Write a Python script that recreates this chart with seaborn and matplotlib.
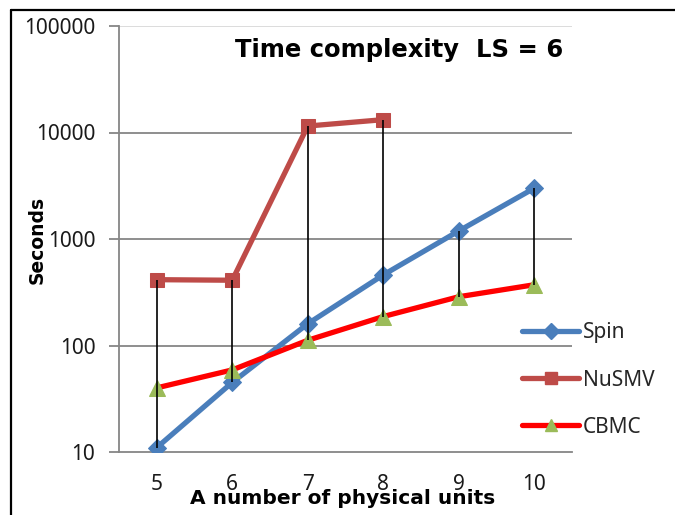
import numpy as np
import pandas as pd
import matplotlib
matplotlib.use("Agg")
import matplotlib.pyplot as plt
from matplotlib.lines import Line2D
import seaborn as sns

units = [5, 6, 7, 8, 9, 10]
spin = [11, 45, 160, 460, 1190, 3000]
nusmv = [415, 410, 11500, 13200, np.nan, np.nan]
cbmc = [40, 59, 112, 187, 287, 372]
y_ticks = [10, 100, 1000, 10000, 100000]

sns.set_theme(style="white")
plt.rcParams['font.family'] = ['Noto Sans', 'DejaVu Sans']
BOLD = ['DejaVu Sans']

fig = plt.figure(figsize=(6.75, 5.15), dpi=100)
ax = fig.add_axes([119/675, 1-452/515, (572-119)/675, (452-26)/515])

series = [
    ("Spin", spin, "#4a7ebb", "#4a7ebb", "D", 9),
    ("NuSMV", nusmv, "#be4b48", "#be4b48", "s", 10),
    ("CBMC", cbmc, "#ff0000", "#9bbb59", "^", 11),
]
handles = []
for name, vals, lc, mc, mk, ms in series:
    df = pd.DataFrame({"x": units, "y": vals})
    sns.lineplot(data=df, x="x", y="y", ax=ax, color=lc, linewidth=3.8,
                 marker=mk, markersize=ms, markerfacecolor=mc, markeredgecolor=mc,
                 zorder=3)
    handles.append(Line2D([0], [0], color=lc, linewidth=3.8, marker=mk,
                          markersize=ms*0.85, markerfacecolor=mc, markeredgecolor=mc,
                          solid_capstyle="round"))

# high-low lines
arr = np.array([spin, nusmv, cbmc], dtype=float)
hi = np.nanmax(arr, axis=0)
lo = np.nanmin(arr, axis=0)
ax.vlines(units, lo, hi, color="black", linewidth=1.2, zorder=5)

ax.set_yscale("log")
ax.set_ylim(10, 100000)
ax.set_xlim(4.5, 10.5)
ax.set_yticks(y_ticks)
ax.set_yticklabels([str(t) for t in y_ticks])
ax.yaxis.set_minor_locator(matplotlib.ticker.NullLocator())
ax.set_xticks(units)
ax.set_xticklabels([str(u) for u in units])

for t in y_ticks[1:-1]:
    ax.axhline(t, color="#868686", linewidth=1.3, zorder=1)
ax.axhline(100000, color="#d9d9d9", linewidth=1.3, zorder=1)

for s in ["top", "right"]:
    ax.spines[s].set_visible(False)
ax.spines["left"].set_color("#868686")
ax.spines["left"].set_linewidth(1.3)
ax.spines["bottom"].set_color("#868686")
ax.spines["bottom"].set_linewidth(1.3)

ax.tick_params(axis="y", which="major", direction="out", length=7, width=1.3,
               color="#868686", labelsize=15, pad=10, left=True)
ax.tick_params(axis="x", which="major", length=0, labelsize=15, pad=16)
for lab in ax.get_xticklabels() + ax.get_yticklabels():
    lab.set_color("#1a1a1a")

ax.set_xlabel("")
ax.set_ylabel("")
fig.text(343/675, 1-499/515, "A number of physical units", ha="center", va="center",
         fontsize=14.5, fontweight="bold", color="black", family=BOLD)
fig.text(37/675, 1-240/515, "Seconds", ha="center", va="center", rotation=90,
         fontsize=13.5, fontweight="bold", color="black", family=BOLD)
fig.text(399/675, 1-50/515, "Time complexity  LS = 6", ha="center", va="center",
         fontsize=17.5, fontweight="bold", color="black", family=BOLD)

fig.legend(handles, ["Spin", "NuSMV", "CBMC"], loc="center left",
           bbox_to_anchor=(512/675, 1-380/515), frameon=False, fontsize=15,
           handlelength=2.7, handletextpad=0.2, labelspacing=1.25, borderpad=0)

# outer chart border
fig.add_artist(Line2D([11/675, 1], [1-10/515, 1-10/515], color="black", linewidth=1.6))
fig.add_artist(Line2D([11/675, 11/675], [0, 1-10/515], color="black", linewidth=1.6))

fig.savefig("out.png", dpi=100)
